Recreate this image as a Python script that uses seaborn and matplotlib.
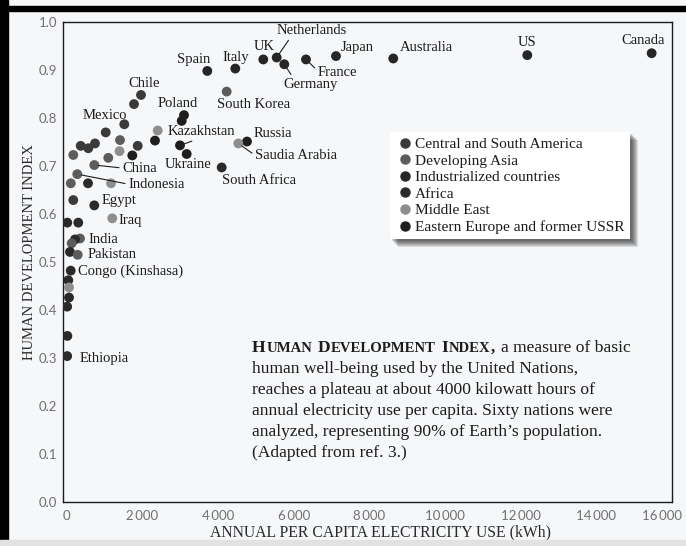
import numpy as np
import pandas as pd
import matplotlib.pyplot as plt
import seaborn as sns
from matplotlib.lines import Line2D
from matplotlib.patches import Rectangle
from matplotlib.ticker import FuncFormatter
from matplotlib.transforms import IdentityTransform

# ---- data ----
country = ["Spain", "Italy", "UK", "Netherlands", "Germany", "France", "Japan",
           "Australia", "US", "Canada", "South Korea", "Chile", "", "Mexico",
           "Poland", "", "", "", "Kazakhstan", "Ukraine", "South Africa",
           "Russia", "Saudia Arabia", "", "", "", "", "", "", "", "", "", "",
           "China", "Indonesia", "", "", "", "", "Egypt", "Iraq", "", "",
           "India", "", "", "", "Pakistan", "Congo (Kinshasa)", "", "", "",
           "", "", "Ethiopia"]
kwh = [3715, 4455, 5195, 5549, 5750, 6324, 7117,
       8631, 12174, 15462, 4227, 1962, 1777, 1520,
       3099, 3038, 2403, 2332, 2993, 3170, 4095,
       4764, 4534, 1029, 1407, 368, 569, 746, 172, 1394, 1097, 1732, 1875,
       727, 278, 106, 561, 1169, 172, 727, 1203, 14, 304,
       349, 217, 130, 85, 289, 104, 40, 59, 59,
       10, 15, 10]
hdi = [0.898, 0.903, 0.922, 0.926, 0.912, 0.922, 0.929,
       0.924, 0.931, 0.935, 0.855, 0.848, 0.829, 0.787,
       0.806, 0.794, 0.774, 0.753, 0.743, 0.725, 0.697,
       0.751, 0.747, 0.770, 0.754, 0.742, 0.737, 0.747, 0.723, 0.731, 0.717,
       0.722, 0.742,
       0.702, 0.683, 0.664, 0.664, 0.664, 0.629, 0.618, 0.591, 0.582, 0.582,
       0.549, 0.547, 0.539, 0.521, 0.515, 0.482, 0.462, 0.447, 0.426,
       0.407, 0.346, 0.304]
region = ["IND"] * 10 + ["DA", "CSA", "CSA", "CSA",
          "EE", "EE", "ME", "EE", "EE", "EE", "AF",
          "EE", "ME", "CSA", "DA", "CSA", "CSA", "CSA", "DA", "ME", "DA", "EE", "CSA",
          "DA", "DA", "DA", "AF", "ME", "CSA", "AF", "ME", "AF", "AF",
          "DA", "AF", "DA", "AF", "DA", "AF", "AF", "ME", "AF",
          "AF", "AF", "AF"]

region_names = {
    "CSA": "Central and South America",
    "DA": "Developing Asia",
    "IND": "Industrialized countries",
    "AF": "Africa",
    "ME": "Middle East",
    "EE": "Eastern Europe and former USSR",
}
x_ticks = list(range(0, 16001, 2000))
y_ticks = [round(v, 1) for v in np.arange(0, 1.01, 0.1)]

caption_rest = [
    "human well-being used by the United Nations,",
    "reaches a plateau at about 4000 kilowatt hours of",
    "annual electricity use per capita. Sixty nations were",
    "analyzed, representing 90% of Earth\u2019s population.",
    "(Adapted from ref. 3.)",
]

# ---- styling / layout ----
shade = {"CSA": "#3a3a3a", "DA": "#5c5c5c", "IND": "#262626",
         "AF": "#2a2a2a", "ME": "#8e8e8e", "EE": "#1e1e1e"}
paper = "#f6f7f9"
ink = "#1c1c1c"

# label offset from dot (pixels, to label's left-middle)
label_offset = {
    "Spain": (-30, 11), "Italy": (-13, 11), "UK": (-10, 13),
    "Netherlands": (0, 27), "Germany": (-1, -20), "France": (12, -13),
    "Japan": (5, 9), "Australia": (7, 11), "US": (-10, 13), "Canada": (-30, 13),
    "South Korea": (-10, -13), "Chile": (-13, 11), "Poland": (-26, 12),
    "Mexico": (-42, 9), "Kazakhstan": (-12, 14), "Russia": (7, 8),
    "Saudia Arabia": (17, -12), "Ukraine": (-22, -11), "South Africa": (0, -13),
    "China": (28, -3), "Indonesia": (51, -10), "Egypt": (7, 5), "Iraq": (6, -2),
    "India": (8, -1), "Pakistan": (10, 0), "Congo (Kinshasa)": (7, -1),
    "Ethiopia": (12, -2),
}
leader = {"Netherlands": (0.2, 0), "Germany": (0.18, 1), "France": (0, 0.6),
          "Kazakhstan": (0.49, 0), "Saudia Arabia": (0, 0.5),
          "China": (0, 0.5), "Indonesia": (0, 0.5)}

sns.set_theme(style="white")
plt.rcParams["font.family"] = ["Liberation Serif", "DejaVu Serif"]

df = pd.DataFrame({"country": country, "kwh": kwh, "hdi": hdi, "region": region})

fig = plt.figure(figsize=(6.86, 5.46), dpi=100, facecolor=paper)
ax = fig.add_axes([63 / 686, 44 / 546, 609 / 686, 480 / 546], facecolor=paper)

sns.scatterplot(data=df, x="kwh", y="hdi", hue="region", palette=shade,
                s=50, linewidth=0, legend=False, ax=ax, zorder=3)

ax.set_xlim(-100, 16000)
ax.set_ylim(0, 1.0)
ax.set_xticks(x_ticks)
ax.set_yticks(y_ticks)
thin = lambda v: f"{int(v):,}".replace(",", "\u2009")
ax.xaxis.set_major_formatter(FuncFormatter(
    lambda v, p: "" if v >= x_ticks[-1] else thin(v)))
ax.yaxis.set_major_formatter(FuncFormatter(lambda v, p: f"{v:.1f}"))
ax.tick_params(axis="x", direction="in", length=4, width=0.9, color=ink,
               pad=6, labelsize=9.5, labelcolor="#707070")
ax.tick_params(axis="y", length=0, pad=4, labelsize=9.5, labelcolor="#707070")
for lbl in ax.get_xticklabels() + ax.get_yticklabels():
    lbl.set_fontfamily(["Lato", "DejaVu Sans"])
# last tick label sits a little inside the frame in the original
ax.annotate(thin(x_ticks[-1]), xy=(x_ticks[-1], 0), xytext=(-10, -8.3),
            textcoords="offset pixels", ha="center", va="top", fontsize=9.5,
            color="#707070", family=["Lato", "DejaVu Sans"], annotation_clip=False)
for sp in ax.spines.values():
    sp.set_color(ink)
    sp.set_linewidth(1.0)

ax.set_xlabel("ANNUAL PER CAPITA ELECTRICITY USE (kWh)", fontsize=11.3, color="#2a2a2a")
ax.set_ylabel("HUMAN DEVELOPMENT INDEX", fontsize=10.5, color="#2a2a2a")
ax.xaxis.set_label_coords(0.522, -0.046)
ax.yaxis.set_label_coords(-0.045, 0.52)

# country labels
for _, r in df[df.country != ""].iterrows():
    arrow = None
    if r.country in leader:
        arrow = dict(arrowstyle="-", color=ink, lw=0.8, shrinkA=0, shrinkB=3,
                     relpos=leader[r.country])
    ax.annotate(r.country, xy=(r.kwh, r.hdi), xytext=label_offset[r.country],
                textcoords="offset pixels", ha="left", va="center",
                fontsize=10.5, color=ink, arrowprops=arrow, zorder=4)

# legend
handles = [Line2D([], [], ls="", marker="o", ms=6.5, mfc=shade[k], mec=shade[k])
           for k in region_names]
leg = ax.legend(handles, list(region_names.values()), loc="upper left",
                bbox_to_anchor=(0.537, 0.771), frameon=True, fancybox=False,
                facecolor="white", edgecolor="none", framealpha=1,
                fontsize=11.1, handletextpad=0.05, handlelength=1.2,
                labelspacing=0.18, borderpad=0.35, borderaxespad=0,
                labelcolor=ink)
leg.set_zorder(6)

fig.canvas.draw()
renderer = fig.canvas.get_renderer()

# soft drop shadow to the right and below the legend box (behind the legend)
bb = leg.get_frame().get_window_extent(renderer)
for d in range(1, 8):
    ax.add_artist(Rectangle((bb.x0 + d + 1, bb.y0 - d - 1), bb.width, bb.height,
                            transform=IdentityTransform(), facecolor="#1a1a1a",
                            edgecolor="none", alpha=0.13, zorder=5))

# caption (first line in small caps)
cap_xy = ((252 - 63) / 609, (502 - 352) / 480)
big, small = 12.6, 10.6
space = 0.26 * big * 100 / 72
pieces = [("H", big), ("UMAN", small), (None, 0), ("D", big), ("EVELOPMENT", small),
          (None, 0), ("I", big), ("NDEX", small), (",", big)]
cx = 0.0
for txt, size in pieces:
    if txt is None:
        cx += space
        continue
    t = ax.annotate(txt, xy=cap_xy, xycoords="axes fraction", xytext=(cx, 0),
                    textcoords="offset pixels", fontsize=size, fontweight="bold",
                    va="baseline", ha="left", color=ink)
    cx += t.get_window_extent(renderer).width + 0.8
ax.annotate("a measure of basic", xy=cap_xy, xycoords="axes fraction",
            xytext=(cx + space, 0), textcoords="offset pixels",
            fontsize=big, va="baseline", ha="left", color=ink)
for i, line in enumerate(caption_rest, start=1):
    ax.annotate(line, xy=cap_xy, xycoords="axes fraction", xytext=(0, -21 * i),
                textcoords="offset pixels", fontsize=big, va="baseline",
                ha="left", color=ink)

# scan border
fig.add_artist(Rectangle((0, 0), 8 / 686, 1, transform=fig.transFigure,
                         color="black", zorder=10))
fig.add_artist(Rectangle((0, 535 / 546), 1, 5 / 546, transform=fig.transFigure,
                         color="black", zorder=10))
fig.add_artist(Rectangle((0, 0), 1, 6 / 546, transform=fig.transFigure,
                         color="#e2e2e2", zorder=11))

fig.savefig("out.png", dpi=100, facecolor=paper)
